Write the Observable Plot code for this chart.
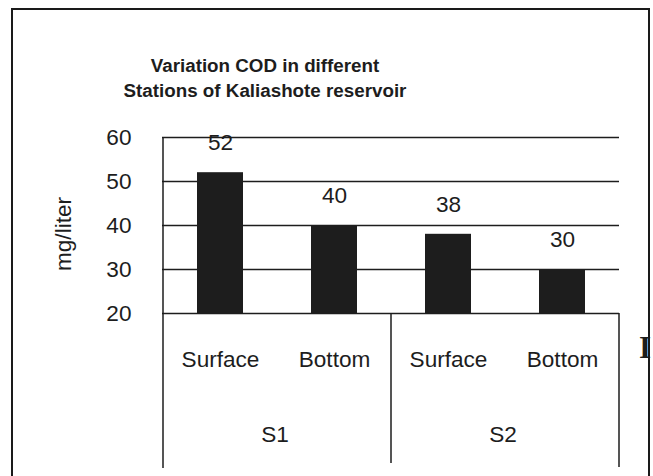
<!DOCTYPE html>
<html>
<head>
<meta charset="utf-8">
<script src="https://cdn.jsdelivr.net/npm/d3@7"></script>
<script src="https://cdn.jsdelivr.net/npm/@observablehq/plot@0.6"></script>
<style>
  html, body { margin: 0; padding: 0; background: #fff; }
  #chart { position: relative; width: 653px; height: 476px; overflow: hidden; }
</style>
</head>
<body>
<div id="chart"></div>
<script>
const titleLines = ["Variation COD in different", "Stations of Kaliashote reservoir"];
const yLabel = "mg/liter";
const stations = ["S1", "S1", "S2", "S2"];
const depths = ["Surface", "Bottom", "Surface", "Bottom"];
const cod = [52, 40, 38, 30];
const yTicks = [20, 30, 40, 50, 60];
const yMin = 20, yMax = 60;

const data = cod.map((v, i) => ({
  key: stations[i] + " " + depths[i],
  station: stations[i],
  depth: depths[i],
  cod: v
}));
const keys = data.map(d => d.key);
const depthOf = Object.fromEntries(data.map(d => [d.key, d.depth]));

const FONT = "'Liberation Sans', Arial, Helvetica, sans-serif";
const INK = "#1d1d1d";
const FS = 22.6;

const plot = Plot.plot({
  width: 653,
  height: 476,
  marginLeft: 162,
  marginRight: 34,
  marginTop: 137,
  marginBottom: 163,
  style: { fontFamily: FONT, fontSize: FS + "px", color: INK, background: "white", overflow: "visible" },
  x: { domain: keys, paddingInner: 0.6, paddingOuter: 0.3, tickSize: 0, tickPadding: 37, tickFormat: k => depthOf[k], label: null },
  y: { domain: [yMin, yMax], ticks: yTicks, tickSize: 0, tickPadding: 31, label: null },
  marks: [
    Plot.ruleY(yTicks, { stroke: INK, strokeWidth: 1.4 }),
    Plot.barY(data, { x: "key", y1: yMin, y2: "cod", fill: INK }),
    Plot.text(data, { x: "key", y: "cod", text: d => String(d.cod), dy: -29.5, fontSize: FS, fill: INK })
  ]
});

document.getElementById("chart").appendChild(plot);

// Decorations using the library's scales
const svg = d3.select(plot.tagName.toLowerCase() === "svg" ? plot : plot.querySelector("svg"));
const xs = plot.scale("x"), ys = plot.scale("y");
const bw = xs.bandwidth, step = xs.step;
const gap = (step - bw) / 2;
const bottomY = 466;

const groups = Array.from(new Set(stations));
const bounds = new Set();
const deco = svg.append("g").attr("font-family", FONT).attr("fill", INK);
groups.forEach(g => {
  const ks = data.filter(d => d.station === g).map(d => d.key);
  const left = xs.apply(ks[0]) - gap;
  const right = xs.apply(ks[ks.length - 1]) + bw + gap;
  bounds.add(left); bounds.add(right);
  deco.append("text")
    .attr("x", (left + right) / 2 - 2)
    .attr("y", 442)
    .attr("text-anchor", "middle")
    .attr("font-size", FS)
    .text(g);
});
const minB = Math.min(...bounds), maxB = Math.max(...bounds);
bounds.forEach(b => {
  deco.append("line")
    .attr("x1", b).attr("x2", b)
    .attr("y1", b === minB ? ys.apply(yMax) : ys.apply(yMin))
    .attr("y2", b === minB ? bottomY + 2 : (b === maxB ? bottomY + 1 : bottomY - 3))
    .attr("stroke", INK).attr("stroke-width", 1.5);
});

// y-axis title
deco.append("text")
  .attr("transform", "translate(70.5,234) rotate(-90)")
  .attr("text-anchor", "middle")
  .attr("font-size", FS)
  .text(yLabel);

// chart title
titleLines.forEach((t, i) => {
  deco.append("text")
    .attr("x", 265)
    .attr("y", 72 + i * 25)
    .attr("text-anchor", "middle")
    .attr("font-size", 18.8)
    .attr("font-weight", "bold")
    .text(t);
});

// letter of the surrounding page text, just at the box edge
deco.append("text")
  .attr("x", 645)
  .attr("y", 358)
  .attr("font-family", "'Liberation Serif', 'Times New Roman', serif")
  .attr("font-weight", "bold")
  .attr("font-size", 31)
  .text("I");

// outer border of the chart box
deco.append("path")
  .attr("d", "M12,480 L12,9 L649,9 L649,480")
  .attr("fill", "none")
  .attr("stroke", "#1a1a1a")
  .attr("stroke-width", 2);
</script>
</body>
</html>
